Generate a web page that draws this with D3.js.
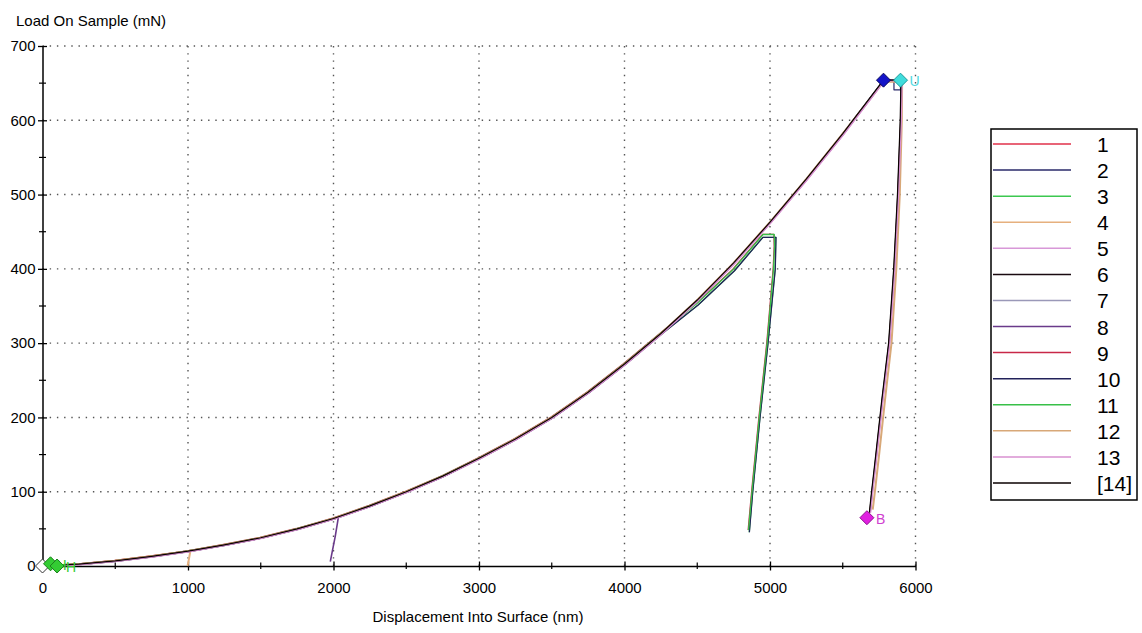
<!DOCTYPE html>
<html><head><meta charset="utf-8">
<script src="https://cdn.jsdelivr.net/npm/d3@7"></script>
<style>
body{margin:0;background:#fff}
svg{display:block;font-family:"Liberation Sans",Arial,sans-serif}
</style>
</head><body>
<svg id="chart" width="1142" height="633"></svg>
<script>
// ---------- data ----------
const seriesNames = ["1","2","3","4","5","6","7","8","9","10","11","12","13","[14]"];
const seriesColors = ["#e0304a","#2a2a6a","#3cc850","#e6b07e","#d898d8","#1a0a10","#9a98b8","#6a3a8a","#c82848","#22225a","#38c048","#d8a878","#d890d0","#0a0000"];

const yTicks = [0,100,200,300,400,500,600,700];
const yMinorTicks = [50,150,250,350,450,550,650];
const xTicks = [0,1000,2000,3000,4000,5000,6000];
const xMinorTicks = [500,1500,2500,3500,4500,5500];

// shared loading segment (nm, mN)
const loadDepth = [0,250,500,750,1000,1250,1500,1750,2000,2250,2500,2750,3000,3250,3500,3750,4000,4250,4500,4750,5000,5250,5500,5780];
const loadForce = [0,2.5,7,13,20,28.5,38,50,64,81,100,121,145,171,200,234,272,313,358,408,463,521,582,654];

// tails: hold + unload segments [depth, load]
const unload1000 = [[1017,21],[1006,9],[997,0]];
const unload2000 = [[2034,66],[2012,40],[1992,20],[1978,6]];
const branch5000 = [[4500,352],[4750,398],[4945,443],[5035,443],[5030,400],[4980,300],[4925,200],[4875,100],[4852,46]];
const branch5000B = [[4500,353],[4750,399],[4955,446],[5032,446],[5034,430],[5027,400],[4983,300],[4929,200],[4879,100],[4855,48]];
const peakUnload = [[5780,654],[5900,654],[5895,600],[5876,500],[5850,400],[5815,300],[5768,223],[5727,150],[5698,100],[5683,72]];
const peakUnloadB = [[5780,652],[5908,652],[5906,600],[5892,500],[5868,400],[5835,300],[5790,223],[5750,150],[5721,100],[5706,76]];
const peakHoldL = [[5780,654],[5852,654],[5852,641],[5897,641],[5897,652]];

const seriesLoadEnd = [5500,5500,4250,1000,5500,5500,5500,2000,4250,4250,4250,5500,5500,5500];
const seriesTail = [peakUnload,peakHoldL,branch5000,unload1000,peakUnload,peakUnload,peakUnload,unload2000,branch5000B,branch5000,branch5000B,peakUnloadB,peakUnload,peakUnload];

// markers
const markerDepth = [0,55,100,5780,5897,5666];
const markerLoad  = [0,3,0,654,654,65];
const markerFill  = ["#ffffff","#33cc33","#33cc33","#1414c8","#40dcdc","#e020e0"];
const markerEdge  = ["#333333","#1c801c","#1c801c","#0a0a60","#1a9a9a","#901090"];
const markerText  = ["","H","H","","U","B"];
const markerTextColor = ["#000","#33cc33","#33cc33","#000","#50d8e0","#d040d0"];

// ---------- drawing ----------
const svg = d3.select("#chart");
svg.append("rect").attr("width",1142).attr("height",633).attr("fill","#fff");

const x = d3.scaleLinear().domain([0,6000]).range([42.5,915.5]);
const y = d3.scaleLinear().domain([0,700]).range([566,46]);

// grid
const grid = svg.append("g").attr("stroke","#555").attr("stroke-width",1.4).attr("stroke-dasharray","1.4 5.8");
grid.selectAll("line.h").data(yTicks.filter(d=>d>0)).join("line")
  .attr("x1",x(0)).attr("x2",x(6000)).attr("y1",d=>y(d)).attr("y2",d=>y(d));
grid.selectAll("line.v").data(xTicks.filter(d=>d>0)).join("line")
  .attr("x1",d=>x(d)).attr("x2",d=>x(d)).attr("y1",y(700)).attr("y2",y(0));

// axes
const font = '"Liberation Sans",Arial,sans-serif';
const yAxis = svg.append("g").attr("transform",`translate(${x(0)},0)`)
  .call(d3.axisLeft(y).tickValues(yTicks).tickFormat(d=>String(d)).tickSize(0).tickPadding(7));
yAxis.select(".domain").attr("stroke","#000").attr("stroke-width",1.5);
yAxis.selectAll("text").attr("font-size",15).attr("font-family",font).attr("fill","#000");
yAxis.selectAll(".tick").append("line").attr("x1",-4.5).attr("x2",4.5).attr("stroke","#000").attr("stroke-width",1.3);
svg.append("g").selectAll("line").data(yMinorTicks).join("line")
  .attr("x1",x(0)-3.5).attr("x2",x(0)+3.5).attr("y1",d=>y(d)).attr("y2",d=>y(d)).attr("stroke","#000").attr("stroke-width",1.2);

const xAxis = svg.append("g").attr("transform",`translate(0,${y(0)})`)
  .call(d3.axisBottom(x).tickValues(xTicks).tickFormat(d=>String(d)).tickSize(0).tickPadding(16));
xAxis.select(".domain").attr("stroke","#000").attr("stroke-width",1.5);
xAxis.selectAll("text").attr("font-size",15).attr("font-family",font).attr("fill","#000");
xAxis.selectAll(".tick").append("line").attr("y1",-4.5).attr("y2",4.5).attr("stroke","#000").attr("stroke-width",1.3);
svg.append("g").selectAll("line").data(xMinorTicks).join("line")
  .attr("x1",d=>x(d)).attr("x2",d=>x(d)).attr("y1",y(0)-3.5).attr("y2",y(0)+3).attr("stroke","#000").attr("stroke-width",1.2);

// titles
svg.append("text").attr("x",16).attr("y",26).attr("font-size",15).attr("fill","#000").text("Load On Sample (mN)");
svg.append("text").attr("x",478).attr("y",622).attr("text-anchor","middle").attr("font-size",15).attr("fill","#000").text("Displacement Into Surface (nm)");

// series
const line = d3.line().x(d=>x(d[0])).y(d=>y(d[1]));
const seriesData = seriesNames.map((n,i)=>{
  const pts = [];
  loadDepth.forEach((dd,j)=>{ if (dd<=seriesLoadEnd[i]) pts.push([dd,loadForce[j]]); });
  seriesTail[i].forEach(p=>pts.push(p));
  return pts;
});
const nudge = [0.6,0,0.8,0,1.0,0.3,0.8,0,-0.8,0.9,-0.4,0,1.0,0];
const widths = [1.2,1.2,1.3,2.0,1.2,1.2,1.2,1.6,1.2,1.3,1.3,2.0,1.6,1.2];
svg.append("g").selectAll("path").data(seriesData).join("path")
  .attr("d",line).attr("fill","none")
  .attr("stroke",(d,i)=>seriesColors[i])
  .attr("stroke-width",(d,i)=>widths[i])
  .attr("stroke-linejoin","round")
  .attr("transform",(d,i)=>`translate(${nudge[i]},${nudge[i]*0.5})`);

// markers
const mk = svg.append("g");
markerDepth.forEach((d,i)=>{
  const cx = x(d), cy = y(markerLoad[i]), r = 7;
  mk.append("path").attr("d",`M${cx},${cy-r}L${cx+r},${cy}L${cx},${cy+r}L${cx-r},${cy}Z`)
    .attr("fill",markerFill[i]).attr("stroke",markerEdge[i]).attr("stroke-width",1);
  if (markerText[i]) {
    mk.append("text").attr("x",cx+(i<3?6+(i-1)*3:9)).attr("y",cy+6)
      .attr("font-size",14).attr("fill",markerTextColor[i]).text(markerText[i]);
  }
});

// legend
const lg = svg.append("g");
lg.append("rect").attr("x",991).attr("y",129).attr("width",146).attr("height",371)
  .attr("fill","#fff").attr("stroke","#000").attr("stroke-width",1.5);
const ly = d3.scalePoint().domain(seriesNames).range([144,483]);
lg.selectAll("line").data(seriesNames).join("line")
  .attr("x1",993).attr("x2",1071).attr("y1",d=>ly(d)).attr("y2",d=>ly(d))
  .attr("stroke",(d,i)=>seriesColors[i]).attr("stroke-width",1.5);
lg.selectAll("text").data(seriesNames).join("text")
  .attr("x",1097).attr("y",d=>ly(d)+8).attr("font-size",21).attr("fill","#000").text(d=>d);
</script>
</body></html>
